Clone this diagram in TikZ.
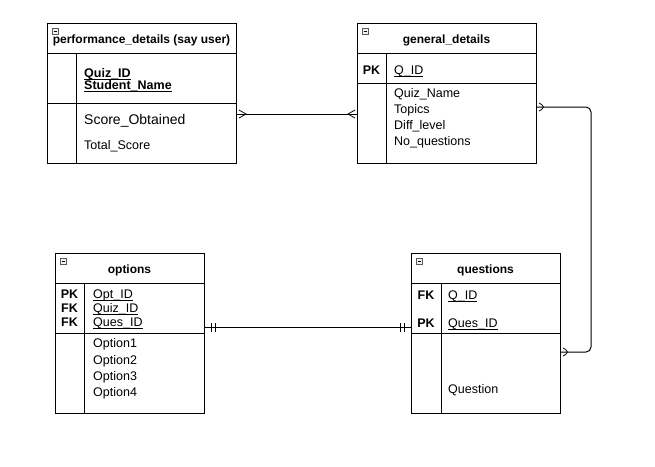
\documentclass[tikz,border=0pt]{standalone}
\usepackage{fontspec}
\setmainfont{Liberation Sans}
\usetikzlibrary{decorations.markings}

% underline close under the baseline, like the keys in the tables
\newcommand\keyul[1]{\setbox0\hbox{#1}\rlap{\vrule height -1.6pt depth 2.5pt width \wd0}\box0}

\tikzset{
  tbl/.style={draw, line width=1pt, anchor=north west, inner sep=0pt},
  sep/.style={line width=1pt},
  hdr/.style={anchor=base, inner sep=0pt, font=\bfseries\fontsize{12}{14}\selectfont},
  key/.style={anchor=base, inner sep=0pt, font=\bfseries\fontsize{12.5}{14}\selectfont},
  fld/.style={anchor=base west, inner sep=0pt, font=\fontsize{12.5}{16}\selectfont},
  many/.style={postaction={decorate, decoration={markings,
      mark=at position 2pt with {\draw[line width=.8pt] (0,-4pt) -- (7pt,0) -- (0,4pt);},
      mark=at position -2pt with {\draw[line width=.8pt] (0,-4pt) -- (-7pt,0) -- (0,4pt);}}}},
  one/.style={postaction={decorate, decoration={markings,
      mark=at position 6pt with {\draw[line width=.8pt] (0,-4.5pt) -- (0,4.5pt);},
      mark=at position 10pt with {\draw[line width=.8pt] (0,-4.5pt) -- (0,4.5pt);},
      mark=at position -7pt with {\draw[line width=.8pt] (0,-4.5pt) -- (0,4.5pt);},
      mark=at position -11pt with {\draw[line width=.8pt] (0,-4.5pt) -- (0,4.5pt);}}}},
  mini/.pic={\draw[gray!70!black, line width=.6pt, fill=gray!10] (5,5) rectangle (11,11);
             \draw[line width=.6pt] (6.5,8) -- (9.5,8);}
}

\begin{document}
\begin{tikzpicture}[x=1pt,y=-1pt]
  \useasboundingbox[fill=white] (0,0) rectangle (655,466);

  % performance_details
  \node[tbl, minimum width=189pt, minimum height=140pt] (perf) at (47,23) {};
  \draw[sep] (47,53) -- (236,53) (47,103) -- (236,103) (76,53) -- (76,163);
  \pic at (perf.north west) {mini};
  \node[hdr] (perfT) at (141.5,43) {performance\_details (say user)};
  \node[fld, font=\bfseries\fontsize{12.5}{16}\selectfont] (pk1) at (84,77) {\keyul{Quiz\_ID}};
  \node[fld, font=\bfseries\fontsize{12.5}{16}\selectfont] (pk2) at (84,89) {\keyul{Student\_Name}};
  \node[fld, font=\fontsize{14}{16}\selectfont] (pf1) at (84,124) {Score\_Obtained};
  \node[fld] (pf2) at (84,149) {Total\_Score};

  % general_details
  \node[tbl, minimum width=179pt, minimum height=140pt] (gen) at (357,23) {};
  \draw[sep] (357,53) -- (536,53) (357,83) -- (536,83) (386,53) -- (386,163);
  \pic at (gen.north west) {mini};
  \node[hdr] (genT) at (446.5,43) {general\_details};
  \node[key] (gk) at (371.5,74) {PK};
  \node[fld] (gk1) at (394,74) {\keyul{Q\_ID}};
  \foreach \t [count=\i] in {Quiz\_Name,Topics,Diff\_level,No\_questions}
    \node[fld] (gf\i) at (394,81+16*\i) {\t};

  % options
  \node[tbl, minimum width=149pt, minimum height=160pt] (opt) at (55,253) {};
  \draw[sep] (55,283) -- (204,283) (55,333) -- (204,333) (84,283) -- (84,413);
  \pic at (opt.north west) {mini};
  \node[hdr] (optT) at (129.5,273) {options};
  \foreach \k/\f [count=\i] in {PK/Opt\_ID,FK/Quiz\_ID,FK/Ques\_ID}{
    \node[key] (ok\i) at (69.5,284+14.2*\i) {\k};
    \node[fld] (okf\i) at (93,284+14.2*\i) {\keyul{\f}};
  }
  \foreach \i in {1,...,4}
    \node[fld] (of\i) at (93,331.4+16.3*\i) {Option\i};

  % questions
  \node[tbl, minimum width=149pt, minimum height=160pt] (ques) at (411,253) {};
  \draw[sep] (411,283) -- (560,283) (411,333) -- (560,333) (441,283) -- (441,413);
  \pic at (ques.north west) {mini};
  \node[hdr] (quesT) at (485.5,273) {questions};
  \node[key] (qk1) at (426,299) {FK};
  \node[fld] (qkf1) at (448,299) {\keyul{Q\_ID}};
  \node[key] (qk2) at (426,327) {PK};
  \node[fld] (qkf2) at (448,327) {\keyul{Ques\_ID}};
  \node[fld] (qf1) at (448,393) {Question};

  % relations
  \coordinate (r1) at (0,114);
  \coordinate (r2) at (0,327);
  \coordinate (r3) at (0,107);
  \coordinate (r4) at (591,352);
  \draw[many, line width=1pt] (perf.east |- r1) -- (gen.west |- r1);
  \draw[one, line width=1pt] (opt.east |- r2) -- (ques.west |- r2);
  \draw[many, line width=1pt, rounded corners=5pt] (gen.east |- r3) -| (r4) -- (ques.east |- r4);
\end{tikzpicture}
\end{document}
